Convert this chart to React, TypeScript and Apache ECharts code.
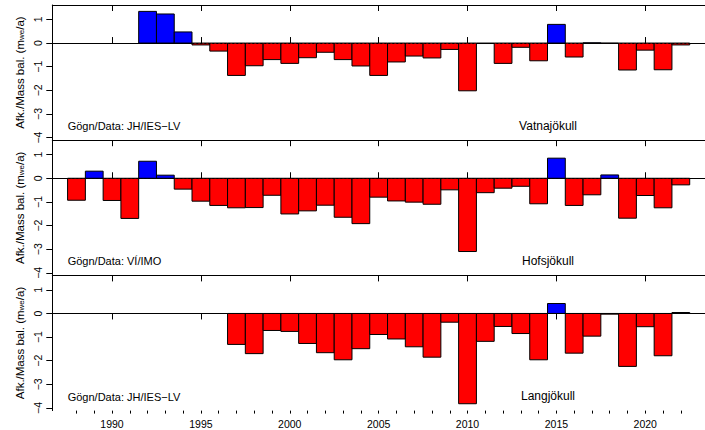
import React, { useEffect, useRef } from "react";
import * as echarts from "echarts";

// Hydrological years (bar centred on the year)
const years: number[] = [
  1988, 1989, 1990, 1991, 1992, 1993, 1994, 1995, 1996, 1997, 1998, 1999,
  2000, 2001, 2002, 2003, 2004, 2005, 2006, 2007, 2008, 2009, 2010, 2011,
  2012, 2013, 2014, 2015, 2016, 2017, 2018, 2019, 2020, 2021, 2022,
];

// Annual mass balance (m w.e./a)
const vatnajokull: (number | null)[] = [
  null, null, null, null, 1.34, 1.23, 0.47, -0.08, -0.34, -1.37, -0.96, -0.7,
  -0.86, -0.62, -0.39, -0.7, -0.97, -1.37, -0.8, -0.55, -0.63, -0.27, -2.02, -0.02,
  -0.86, -0.18, -0.75, 0.79, -0.59, 0.01, -0.01, -1.14, -0.3, -1.13, -0.08,
];
const hofsjokull: (number | null)[] = [
  -0.93, 0.3, -0.94, -1.7, 0.72, 0.13, -0.46, -0.97, -1.15, -1.25, -1.24, -0.72,
  -1.51, -1.38, -1.14, -1.65, -1.92, -0.8, -0.96, -1.01, -1.1, -0.49, -3.1, -0.61,
  -0.42, -0.34, -1.08, 0.85, -1.15, -0.7, 0.14, -1.69, -0.73, -1.25, -0.28,
];
const langjokull: (number | null)[] = [
  null, null, null, null, null, null, null, null, null, -1.31, -1.7, -0.72,
  -0.76, -1.27, -1.66, -1.96, -1.49, -0.89, -1.08, -1.41, -1.85, -0.37, -3.82, -1.18,
  -0.55, -0.85, -1.96, 0.42, -1.68, -0.96, -0.03, -2.24, -0.56, -1.79, 0.04,
];

const glacierNames: string[] = ["Vatnajökull", "Hofsjökull", "Langjökull"];
const sources: string[] = ["Gögn/Data: JH/IES−LV", "Gögn/Data: VÍ/IMO", "Gögn/Data: JH/IES−LV"];

const majorYearTicks: number[] = [1990, 1995, 2000, 2005, 2010, 2015, 2020];
const minorYearTicks: number[] = years;
const yTicks: number[] = [-4, -3, -2, -1, 0, 1];

const X_MIN = 1986.64;
const X_MAX = 2023.36;
const Y_MIN = -4.11;
const Y_MAX = 1.61;

const FONT = "'Liberation Sans', Arial, Helvetica, sans-serif";

const panelTops = [5, 140.2, 275.4];
const panelHeight = 135.2;
const gridLeft = 52.3;
const gridWidth = 655.4;

const blackLine = { show: true, lineStyle: { color: "#000", width: 1 } };

export default function App() {
  const ref = useRef<HTMLDivElement>(null);

  useEffect(() => {
    if (!ref.current) return;
    const chart = echarts.init(ref.current, undefined, { renderer: "svg" });
    const seriesValues = [vatnajokull, hofsjokull, langjokull];

    const grids = panelTops.map((top) => ({
      left: gridLeft,
      top,
      width: gridWidth,
      height: panelHeight,
      show: false,
    }));

    const xAxes: any[] = [];
    const mainXIndex: number[] = [];
    panelTops.forEach((_, i) => {
      const isLast = i === 2;
      mainXIndex.push(xAxes.length);
      xAxes.push({
        gridIndex: i,
        type: "value",
        min: X_MIN,
        max: X_MAX,
        position: "bottom",
        axisLine: blackLine,
        axisTick: {
          show: true,
          inside: !isLast,
          length: 6,
          customValues: majorYearTicks,
          lineStyle: { color: "#000", width: 1 },
        },
        axisLabel: {
          show: isLast,
          customValues: majorYearTicks,
          fontSize: 10.5,
          fontFamily: FONT,
          color: "#000",
          margin: 8,
          formatter: (v: number) => String(Math.round(v)),
        },
        splitLine: { show: false },
      });
      xAxes.push({
        gridIndex: i,
        type: "value",
        min: X_MIN,
        max: X_MAX,
        position: "top",
        axisLine: blackLine,
        axisTick: {
          show: true,
          inside: true,
          length: 6,
          customValues: majorYearTicks,
          lineStyle: { color: "#000", width: 1 },
        },
        axisLabel: { show: false },
        splitLine: { show: false },
      });
      if (isLast) {
        xAxes.push({
          gridIndex: i,
          type: "value",
          min: X_MIN,
          max: X_MAX,
          position: "bottom",
          axisLine: { show: false },
          axisTick: {
            show: true,
            inside: false,
            length: 3,
            customValues: minorYearTicks,
            lineStyle: { color: "#000", width: 1 },
          },
          axisLabel: { show: false },
          splitLine: { show: false },
        });
      }
    });

    const yAxes = panelTops.map((_, i) => ({
      gridIndex: i,
      type: "value",
      min: Y_MIN,
      max: Y_MAX,
      position: "left",
      axisLine: blackLine,
      axisTick: {
        show: true,
        length: 6,
        customValues: yTicks,
        lineStyle: { color: "#000", width: 1 },
      },
      axisLabel: {
        show: true,
        customValues: yTicks,
        rotate: 90,
        fontSize: 10.5,
        fontFamily: FONT,
        color: "#000",
        margin: 9,
        formatter: (v: number) => (v < 0 ? "\u2212" + Math.abs(v) : String(v)),
      },
      splitLine: { show: false },
    }));

    const series = seriesValues.map((vals, i) => ({
      type: "custom",
      xAxisIndex: mainXIndex[i],
      yAxisIndex: i,
      data: years
        .map((y, k) => [y, vals[k]])
        .filter((d) => d[1] !== null),
      encode: { x: 0, y: 1 },
      renderItem: (params: any, api: any) => {
        const yr = api.value(0) as number;
        const v = api.value(1) as number;
        const p0 = api.coord([yr - 0.5, 0]);
        const p1 = api.coord([yr + 0.5, v]);
        return {
          type: "rect",
          shape: {
            x: p0[0],
            y: Math.min(p0[1], p1[1]),
            width: p1[0] - p0[0],
            height: Math.abs(p1[1] - p0[1]),
          },
          style: {
            fill: v >= 0 ? "#0000ff" : "#ff0000",
            stroke: "#000",
            lineWidth: 1,
          },
        };
      },
      markLine: {
        silent: true,
        symbol: "none",
        label: { show: false },
        lineStyle: { type: [2, 2], color: "#000", width: 1 },
        data: [{ yAxis: 0 }],
      },
    }));

    const graphics: any[] = [];
    panelTops.forEach((top, i) => {
      const bottom = top + panelHeight;
      graphics.push({
        type: "text",
        x: 67.7,
        y: bottom - 14,
        style: {
          text: sources[i],
          fontSize: 11,
          fontFamily: FONT,
          fill: "#000",
          align: "left",
          verticalAlign: "middle",
        },
      });
      graphics.push({
        type: "text",
        x: 548,
        y: bottom - 14.5,
        style: {
          text: glacierNames[i],
          fontSize: 12,
          fontFamily: FONT,
          fill: "#000",
          align: "center",
          verticalAlign: "middle",
        },
      });
      graphics.push({
        type: "text",
        x: 18,
        y: top + panelHeight / 2,
        rotation: Math.PI / 2,
        style: {
          text: "{a|Afk./Mass bal. (m}{s|we}{a|/a)}",
          align: "center",
          verticalAlign: "middle",
          fill: "#000",
          rich: {
            a: { fontSize: 11.5, fontFamily: FONT, lineHeight: 15, verticalAlign: "bottom", fill: "#000" },
            s: { fontSize: 8, fontFamily: FONT, lineHeight: 8, verticalAlign: "bottom", fill: "#000" },
          },
        },
      });
    });

    chart.setOption({
      animation: false,
      backgroundColor: "#fff",
      grid: grids,
      xAxis: xAxes,
      yAxis: yAxes,
      series,
      graphic: graphics,
    });

    return () => chart.dispose();
  }, []);

  return (
    <div
      ref={ref}
      style={{ position: "absolute", left: 0, top: 0, width: 705, height: 430 }}
    />
  );
}
